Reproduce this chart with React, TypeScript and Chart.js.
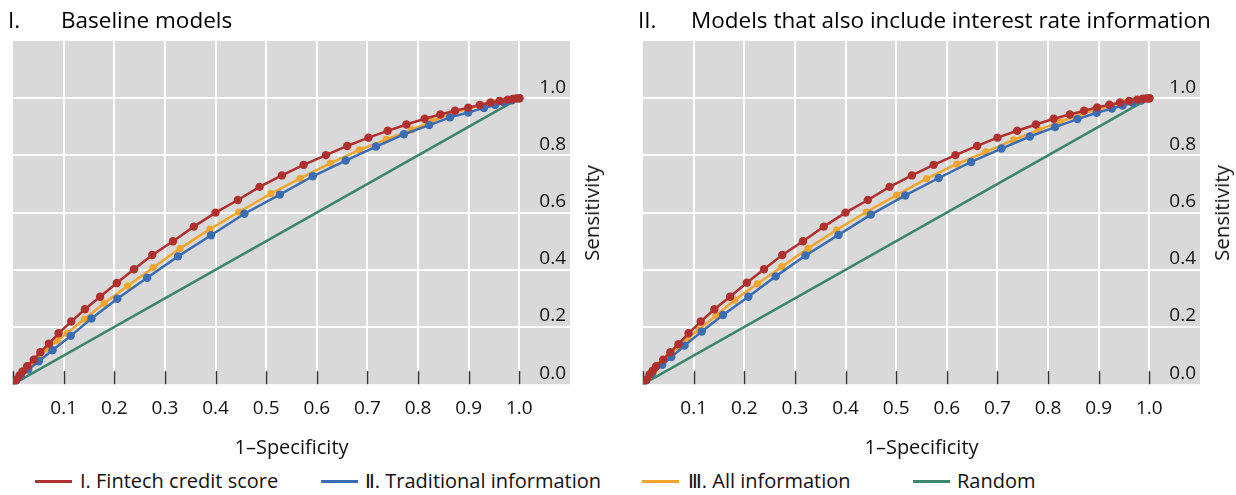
import React, { useEffect, useRef } from 'react';
import { Chart, registerables } from 'chart.js';

Chart.register(...registerables);

// ---------- DATA ----------
const xTickValues = [0.1, 0.2, 0.3, 0.4, 0.5, 0.6, 0.7, 0.8, 0.9, 1.0];
const yTickValues = [0.0, 0.2, 0.4, 0.6, 0.8, 1.0];

// Panel I: Baseline models
const baseFintechX = [0, 0.007, 0.013, 0.019, 0.028, 0.041, 0.054, 0.071, 0.090, 0.115, 0.142, 0.172, 0.205, 0.239, 0.275, 0.316, 0.357, 0.400, 0.444, 0.487, 0.531, 0.574, 0.618, 0.660, 0.702, 0.740, 0.777, 0.813, 0.844, 0.873, 0.899, 0.922, 0.943, 0.961, 0.977, 0.987, 0.994, 1.0];
const baseFintechY = [0, 0.016, 0.031, 0.045, 0.063, 0.086, 0.112, 0.142, 0.178, 0.219, 0.262, 0.306, 0.354, 0.402, 0.452, 0.500, 0.551, 0.600, 0.644, 0.690, 0.730, 0.767, 0.801, 0.833, 0.862, 0.886, 0.908, 0.928, 0.943, 0.956, 0.967, 0.976, 0.985, 0.990, 0.995, 0.997, 0.999, 1.0];
const baseTraditionalX = [0, 0.006, 0.015, 0.030, 0.051, 0.078, 0.114, 0.155, 0.206, 0.265, 0.326, 0.391, 0.457, 0.527, 0.592, 0.657, 0.717, 0.772, 0.822, 0.863, 0.899, 0.930, 0.952, 0.970, 0.985, 1.0];
const baseTraditionalY = [0, 0.012, 0.028, 0.051, 0.080, 0.119, 0.169, 0.230, 0.299, 0.372, 0.447, 0.521, 0.596, 0.663, 0.727, 0.782, 0.831, 0.874, 0.906, 0.933, 0.950, 0.966, 0.976, 0.985, 0.993, 1.0];
const baseAllX = [0, 0.005, 0.012, 0.022, 0.035, 0.051, 0.068, 0.087, 0.107, 0.141, 0.180, 0.226, 0.277, 0.330, 0.389, 0.446, 0.509, 0.567, 0.627, 0.684, 0.737, 0.787, 0.828, 0.867, 0.899, 0.927, 0.951, 0.970, 0.986, 1.0];
const baseAllY = [0, 0.012, 0.027, 0.045, 0.068, 0.095, 0.124, 0.153, 0.178, 0.228, 0.283, 0.343, 0.408, 0.475, 0.542, 0.602, 0.666, 0.720, 0.773, 0.819, 0.856, 0.889, 0.920, 0.947, 0.964, 0.975, 0.985, 0.990, 0.995, 1.0];

// Panel II: Models that also include interest rate information
const rateFintechX = [0, 0.007, 0.013, 0.019, 0.026, 0.040, 0.054, 0.070, 0.090, 0.114, 0.141, 0.172, 0.205, 0.239, 0.275, 0.316, 0.357, 0.400, 0.444, 0.487, 0.531, 0.574, 0.617, 0.660, 0.700, 0.739, 0.776, 0.811, 0.843, 0.871, 0.897, 0.921, 0.942, 0.960, 0.976, 0.987, 0.994, 1.0];
const rateFintechY = [0, 0.016, 0.034, 0.047, 0.063, 0.086, 0.112, 0.140, 0.178, 0.219, 0.262, 0.306, 0.355, 0.402, 0.452, 0.500, 0.551, 0.600, 0.644, 0.690, 0.730, 0.767, 0.801, 0.833, 0.862, 0.886, 0.908, 0.928, 0.943, 0.956, 0.968, 0.977, 0.985, 0.990, 0.995, 0.998, 0.999, 1.0];
const rateTraditionalX = [0, 0.006, 0.018, 0.038, 0.056, 0.082, 0.116, 0.158, 0.208, 0.262, 0.321, 0.386, 0.450, 0.518, 0.584, 0.648, 0.708, 0.764, 0.814, 0.858, 0.896, 0.926, 0.947, 0.967, 0.984, 1.0];
const rateTraditionalY = [0, 0.013, 0.037, 0.068, 0.095, 0.135, 0.184, 0.242, 0.306, 0.377, 0.450, 0.522, 0.593, 0.660, 0.721, 0.777, 0.824, 0.866, 0.899, 0.927, 0.949, 0.964, 0.974, 0.984, 0.992, 1.0];
const rateAllX = [0, 0.005, 0.012, 0.022, 0.035, 0.051, 0.068, 0.088, 0.110, 0.144, 0.181, 0.226, 0.274, 0.326, 0.382, 0.441, 0.501, 0.560, 0.620, 0.677, 0.732, 0.781, 0.824, 0.863, 0.896, 0.925, 0.950, 0.970, 0.986, 1.0];
const rateAllY = [0, 0.013, 0.029, 0.048, 0.072, 0.100, 0.130, 0.161, 0.190, 0.240, 0.294, 0.351, 0.411, 0.475, 0.539, 0.602, 0.661, 0.719, 0.770, 0.812, 0.854, 0.889, 0.917, 0.943, 0.960, 0.973, 0.984, 0.991, 0.996, 1.0];

const randomX = [0, 1];
const randomY = [0, 1];

const seriesNames = ['I. Fintech credit score', 'Ⅱ. Traditional information', 'Ⅲ. All information', 'Random'];
const panelTitles = [
  ['I.', 'Baseline models'],
  ['II.', 'Models that also include interest rate information'],
];
const xAxisTitle = '1–Specificity';
const yAxisTitle = 'Sensitivity';

// ---------- STYLE ----------
const FONT = '"Open Sans", "Noto Sans", "DejaVu Sans", sans-serif';
const COLORS = ['#b0302e', '#3b6db5', '#f2a52b', '#3b8668'];
const PLOT_BG = '#d9d9d9';
const TEXT = '#111111';

const toPoints = (xs: number[], ys: number[]) => xs.map((x, i) => ({ x, y: ys[i] }));

const panelData = [
  [toPoints(baseFintechX, baseFintechY), toPoints(baseTraditionalX, baseTraditionalY), toPoints(baseAllX, baseAllY), toPoints(randomX, randomY)],
  [toPoints(rateFintechX, rateFintechY), toPoints(rateTraditionalX, rateTraditionalY), toPoints(rateAllX, rateAllY), toPoints(randomX, randomY)],
];

const bgPlugin = {
  id: 'plotBg',
  beforeDraw(chart: any) {
    const { ctx, chartArea } = chart;
    ctx.save();
    ctx.fillStyle = PLOT_BG;
    ctx.fillRect(chartArea.left, chartArea.top, chartArea.right - chartArea.left, chartArea.bottom - chartArea.top);
    ctx.restore();
  },
};

const innerTicksPlugin = {
  id: 'innerTicks',
  beforeDatasetsDraw(chart: any) {
    const { ctx, chartArea, scales } = chart;
    const xs = scales.x;
    ctx.save();
    ctx.strokeStyle = '#333333';
    ctx.lineWidth = 1.5;
    const vals = [0, ...xTickValues];
    vals.forEach((v) => {
      const px = Math.round(xs.getPixelForValue(v)) + 0.5;
      ctx.beginPath();
      ctx.moveTo(px, chartArea.bottom);
      ctx.lineTo(px, chartArea.bottom - 13);
      ctx.stroke();
    });
    ctx.restore();
  },
};

const isXTick = (v: number) => xTickValues.some((t) => Math.abs(t - v) < 1e-6);
const isYTick = (v: number) => yTickValues.some((t) => Math.abs(t - v) < 1e-6);

function Panel({ data }: { data: { x: number; y: number }[][] }) {
  const ref = useRef<HTMLCanvasElement>(null);
  useEffect(() => {
    if (!ref.current) return;
    const radii = [4.2, 4.2, 3.6, 0];
    const chart = new Chart(ref.current, {
      type: 'line',
      data: {
        datasets: data.map((pts, i) => ({
          label: seriesNames[i],
          data: pts,
          borderColor: COLORS[i],
          backgroundColor: COLORS[i],
          borderWidth: 2.5,
          pointRadius: radii[i],
          pointBorderWidth: 0,
          pointHoverRadius: radii[i],
          tension: 0,
          fill: false,
        })),
      },
      plugins: [bgPlugin, innerTicksPlugin],
      options: {
        animation: false,
        responsive: false,
        devicePixelRatio: 1,
        layout: { padding: { top: 41, left: 7, right: 40, bottom: 0 } },
        plugins: { legend: { display: false }, tooltip: { enabled: false }, title: { display: false } },
        scales: {
          x: {
            type: 'linear',
            min: 0,
            max: 1.1,
            position: 'bottom',
            afterBuildTicks: (scale: any) => {
              scale.ticks = [0, ...xTickValues, 1.1].map((v) => ({ value: v }));
            },
            ticks: {
              autoSkip: false,
              maxRotation: 0,
              minRotation: 0,
              padding: 13,
              color: TEXT,
              font: { family: FONT, size: 19 },
              callback: (v: any) => (isXTick(Number(v)) ? Number(v).toFixed(1) : ''),
            },
            grid: {
              drawTicks: false,
              lineWidth: 2,
              color: (c: any) => (c.tick && isXTick(c.tick.value) ? '#ffffff' : 'rgba(0,0,0,0)'),
            },
            border: { display: false },
            title: {
              display: true,
              text: xAxisTitle,
              color: TEXT,
              font: { family: FONT, size: 20 },
              padding: { top: 3, bottom: 4 },
            },
          },
          y: {
            type: 'linear',
            min: 0,
            max: 1.2,
            position: 'right',
            afterBuildTicks: (scale: any) => {
              scale.ticks = [...yTickValues, 1.2].map((v) => ({ value: v }));
            },
            afterFit: (scale: any) => {
              scale.width = 0;
            },
            ticks: {
              mirror: true,
              padding: -4,
              labelOffset: -11,
              color: TEXT,
              font: { family: FONT, size: 19 },
              callback: (v: any) => (isYTick(Number(v)) ? Number(v).toFixed(1) : ''),
            },
            grid: {
              drawTicks: false,
              lineWidth: 2,
              color: (c: any) => (c.tick && isYTick(c.tick.value) && c.tick.value > 0.1 ? '#ffffff' : 'rgba(0,0,0,0)'),
            },
            border: { display: false },
          },
        },
      },
    } as any);
    return () => chart.destroy();
  }, [data]);
  return <canvas ref={ref} width={610} height={464} style={{ display: 'block', width: 610, height: 464 }} />;
}

const abs = (s: React.CSSProperties): React.CSSProperties => ({ position: 'absolute', ...s });

export default function App() {
  const panelLefts = [0, 630];
  const legendPos = [
    { line: 35, text: 80 },
    { line: 321, text: 365 },
    { line: 642, text: 688 },
    { line: 913, text: 957 },
  ];
  return (
    <div style={abs({ left: 0, top: 0, width: 1236, height: 495, background: '#fff', fontFamily: FONT, color: TEXT, overflow: 'hidden' })}>
      {panelLefts.map((left, p) => (
        <React.Fragment key={p}>
          <div style={abs({ left, top: 0 })}>
            <Panel data={panelData[p]} />
          </div>
          <div style={abs({ left: left + 8, top: 5, fontSize: 22.5, lineHeight: '30px', color: '#000', whiteSpace: 'nowrap' })}>
            {panelTitles[p][0]}
          </div>
          <div style={abs({ left: left + 61, top: 5, fontSize: 22.5, lineHeight: '30px', color: '#000', whiteSpace: 'nowrap' })}>
            {panelTitles[p][1]}
          </div>
          <div
            style={abs({
              left: left + 591,
              top: 213,
              fontSize: 20.5,
              lineHeight: '24px',
              whiteSpace: 'nowrap',
              transform: 'translate(-50%, -50%) rotate(-90deg)',
            })}
          >
            {yAxisTitle}
          </div>
        </React.Fragment>
      ))}
      {seriesNames.map((name, i) => (
        <React.Fragment key={name}>
          <div style={abs({ left: legendPos[i].line, top: 480, width: 37, height: 3, background: COLORS[i] })} />
          <div style={abs({ left: legendPos[i].text, top: 468, fontSize: 20, lineHeight: '26px', whiteSpace: 'nowrap' })}>{name}</div>
        </React.Fragment>
      ))}
    </div>
  );
}
